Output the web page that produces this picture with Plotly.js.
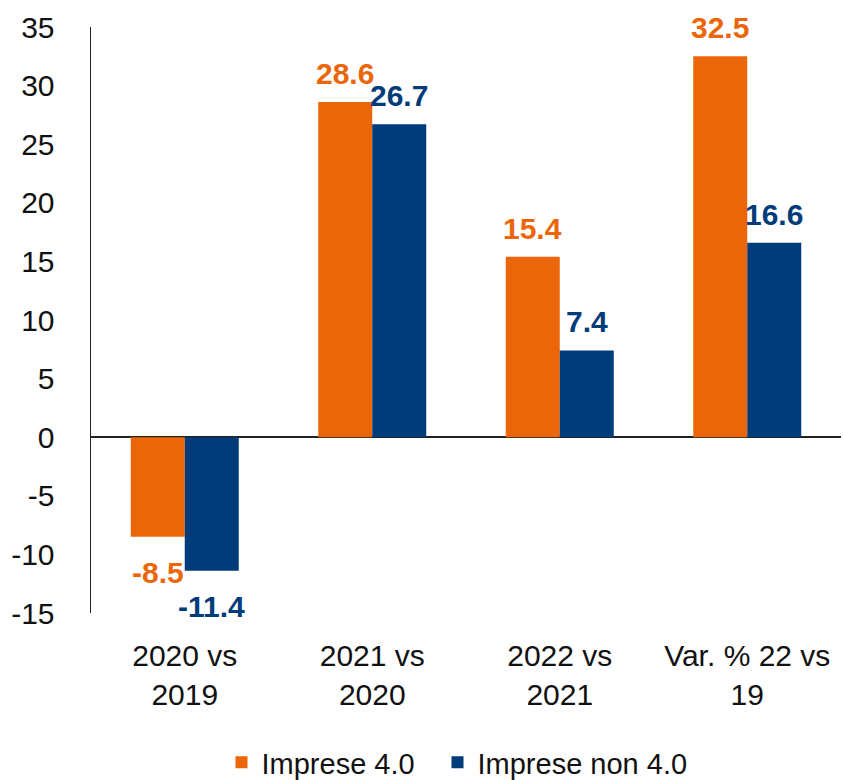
<!DOCTYPE html>
<html><head><meta charset="utf-8">
<script src="https://cdn.plot.ly/plotly-3.0.1.min.js"></script>
<style>body{margin:0;background:#fff}#c{width:843px;height:780px}</style>
</head><body><div id="c"></div>
<script>
const categories = ["2020 vs<br>2019", "2021 vs<br>2020", "2022 vs<br>2021", "Var. % 22 vs<br>19"];
const seriesNames = ["Imprese 4.0", "Imprese non 4.0"];
const imprese40 = [-8.5, 28.6, 15.4, 32.5];
const impreseNon40 = [-11.4, 26.7, 7.4, 16.6];
const yTicks = [-15, -10, -5, 0, 5, 10, 15, 20, 25, 30, 35];
const yTickText = ["-15", "-10", "-5", "0", "5", "10", "15", "20", "25", "30", "35"];

const orange = "#EB6608", blue = "#003B7A";
const fam = "Liberation Sans, Arial, sans-serif";
function mk(name, vals, color, leg) {
  return {
    type: "bar", name: name, x: categories, y: vals, legend: leg,
    marker: {color: color}, hoverinfo: "none"
  };
}
const data = [mk(seriesNames[0], imprese40, orange, "legend"), mk(seriesNames[1], impreseNon40, blue, "legend2")];
const annotations = [];
[[imprese40, orange, -27], [impreseNon40, blue, 27]].forEach(([vals, color, xs]) => {
  vals.forEach((v, i) => {
    annotations.push({
      x: categories[i], y: v, xref: "x", yref: "y", xshift: xs,
      text: v.toFixed(1), showarrow: false,
      yanchor: v >= 0 ? "bottom" : "top",
      yshift: v >= 0 ? 10 : -17,
      font: {family: fam, size: 30, color: color, weight: "bold"}
    });
  });
});
const legBase = {orientation: "h", xanchor: "left", y: -0.255, yanchor: "middle",
  font: {size: 29, family: fam}, itemwidth: 30, bgcolor: "rgba(0,0,0,0)"};
const layout = {
  width: 843, height: 780,
  margin: {l: 91, r: 2, t: 27, b: 167, autoexpand: false},
  paper_bgcolor: "#fff", plot_bgcolor: "#fff",
  barmode: "group", bargap: 0.424, bargroupgap: 0,
  font: {family: fam, size: 30, color: "#111"},
  showlegend: true,
  legend: Object.assign({}, legBase, {x: 0.174}),
  legend2: Object.assign({}, legBase, {x: 0.462}),
  annotations: annotations,
  xaxis: {showline: false, showgrid: false, zeroline: false, ticks: "", ticklabelstandoff: 22,
          tickfont: {size: 30, family: fam}, automargin: false},
  yaxis: {range: [-15, 35], tickvals: yTicks, ticktext: yTickText, showgrid: false, showline: true,
          linecolor: "#222", linewidth: 1.5, automargin: false,
          zeroline: true, zerolinecolor: "#222", zerolinewidth: 1.5, ticks: "", ticklabelstandoff: 29,
          tickfont: {size: 30, family: fam}}
};
Plotly.newPlot("c", data, layout, {displayModeBar: false, staticPlot: true});
</script></body></html>
